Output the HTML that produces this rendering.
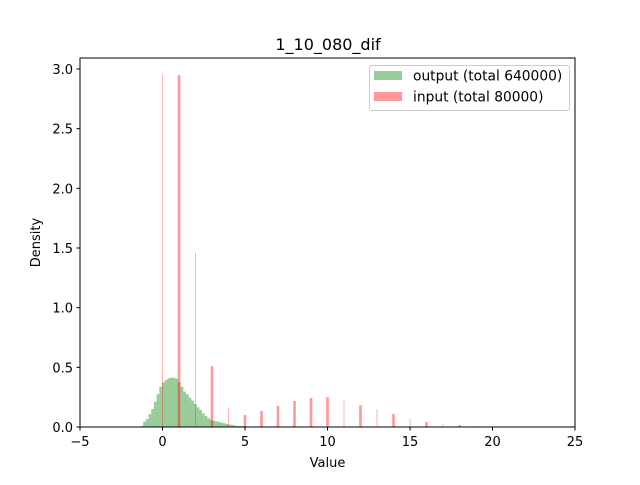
<!DOCTYPE html>
<html><head><meta charset="utf-8"><style>
body{margin:0;background:#fff}
svg text{font-family:"DejaVu Sans","Liberation Sans",sans-serif;fill:#000}
</style></head><body>
<svg id="chart" width="640" height="480" viewBox="0 0 640 480" xmlns="http://www.w3.org/2000/svg">
<rect width="640" height="480" fill="#fff"/>
<text x="328" y="50" font-size="16" text-anchor="middle">1_10_080_dif</text>
<g id="marks"></g>
<rect x="80" y="58" width="495" height="369" fill="none" stroke="#000" stroke-width="1"/>
<g id="axes"></g>
<text x="327.5" y="467" font-size="13" text-anchor="middle">Value</text>
<text transform="translate(40,242.5) rotate(-90)" font-size="13" text-anchor="middle">Density</text>
<g>
<rect x="369.5" y="65.5" width="200" height="45" rx="2" fill="#fff" fill-opacity="0.8" stroke="#ccc"/>
<rect x="374" y="71" width="28" height="9" fill="rgb(153,204,153)"/>
<text x="413" y="80.5" font-size="13.8">output (total 640000)</text>
<rect x="374" y="92" width="28" height="9" fill="rgb(255,153,153)"/>
<text x="413" y="101.5" font-size="13.8">input (total 80000)</text>
</g>
</svg>
<script>
const xTicks=[-5,0,5,10,15,20,25];
const yTicks=[0.0,0.5,1.0,1.5,2.0,2.5,3.0];
const greenStart=-1.33;
const greenBinWidth=0.162;
const greenDensity=[0.008,0.045,0.067,0.109,0.151,0.212,0.274,0.338,0.374,0.394,0.408,0.413,0.413,0.405,0.377,0.338,0.296,0.274,0.246,0.221,0.193,0.165,0.142,0.114,0.092,0.073,0.059,0.053,0.047,0.042,0.036,0.031,0.025,0.020,0.017,0.011,0.008,0.008,0.008,0.005];
const redValues=[0,1,2,3,4,5,6,7,8,9,10,11,12,13,14,15,16,17,18,19];
const redDensity=[2.95,2.95,1.46,0.51,0.16,0.10,0.134,0.176,0.218,0.243,0.251,0.226,0.184,0.151,0.109,0.067,0.042,0.025,0.017,0.005];
const redWidths=[0.06,0.16,0.06,0.16,0.06,0.16,0.16,0.16,0.16,0.16,0.16,0.06,0.16,0.06,0.16,0.06,0.16,0.06,0.16,0.16];

const NS="http://www.w3.org/2000/svg";
const X=v=>80+(v+5)*495/30;
const Y=v=>427-v*(427-69)/3;
const marks=document.getElementById('marks'), axes=document.getElementById('axes');
function mk(tag,attrs,parent){const e=document.createElementNS(NS,tag);for(const k in attrs)e.setAttribute(k,attrs[k]);parent.appendChild(e);return e;}
greenDensity.forEach((d,i)=>{
  const x0=X(greenStart+i*greenBinWidth), x1=X(greenStart+(i+1)*greenBinWidth);
  const r=mk('rect',{x:x0,y:Y(d),width:x1-x0,height:Y(0)-Y(d),fill:'green','fill-opacity':0.4},marks);
  
  
});
redValues.forEach((v,i)=>{
  const w=redWidths[i];
  const x0=X(v-w/2), x1=X(v+w/2);
  const r=mk('rect',{x:x0,y:Y(redDensity[i]),width:x1-x0,height:Y(0)-Y(redDensity[i]),fill:'red','fill-opacity':w<0.1?0.3:0.4},marks);
  
  
});
xTicks.forEach(t=>{
  const l=mk('line',{x1:X(t),x2:X(t),y1:427,y2:430.5,stroke:'#000'},axes);
  
  
  const tx=mk('text',{x:X(t),y:446,'font-size':13,'text-anchor':'middle'},axes);
  tx.textContent=t<0?'\u2212'+(-t):String(t);
  
  
});
yTicks.forEach(t=>{
  const l=mk('line',{x1:76.5,x2:80,y1:Y(t),y2:Y(t),stroke:'#000'},axes);
  
  
  const tx=mk('text',{x:73,y:Y(t)+5,'font-size':13,'text-anchor':'end'},axes);
  tx.textContent=t.toFixed(1);
  
  
});
</script>
</body></html>
